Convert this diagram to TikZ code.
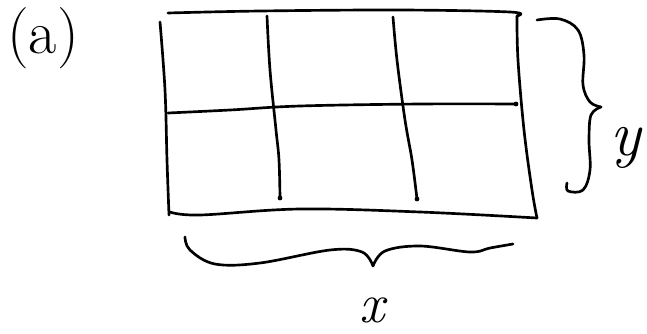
\documentclass[tikz,border=0pt]{standalone}
\begin{document}
\begin{tikzpicture}[x=0.75pt,y=-0.75pt,
  ink/.style={line width=2pt,line cap=round,line join=round,black},
  lbl/.style={inner sep=0pt}]
\useasboundingbox (0,0) rectangle (647,333);
% outer box
\draw[ink] plot[smooth,tension=0.6] coordinates {(168,13) (260,11) (400,10) (510,12) (517,16)};
\draw[ink] plot[smooth,tension=0.6] coordinates {(517,16) (518,60) (524,130) (532,190) (537,218)};
\draw[ink] plot[smooth,tension=0.6] coordinates {(160,22) (165,90) (167,160) (169,215)};
\draw[ink] plot[smooth,tension=0.6] coordinates {(170,212) (200,215) (300,209) (420,212) (537,218)};
% horizontal divider
\draw[ink] plot[smooth,tension=0.6] coordinates {(168,113) (230,110) (300,106) (420,104) (516,104)};
% vertical dividers
\draw[ink] plot[smooth,tension=0.6] coordinates {(267,16) (270,70) (276,130) (279,160) (280,198)};
\draw[ink] plot[smooth,tension=0.6] coordinates {(393,17) (397,60) (405,120) (412,160) (417,199)};
\fill (280,198) circle (2.4);
\fill (417,199) circle (2.4);
\fill (516,104) circle (2.4);
% right brace
\draw[ink] plot[smooth,tension=0.6] coordinates {(537,20) (560,19) (578,30) (584,55) (583,85) (590,102) (601,107)};
\draw[ink] plot[smooth,tension=0.6] coordinates {(601,107) (591,115) (589,140) (590,170) (583,190) (568,191) (567,183)};
% bottom brace
\draw[ink] plot[smooth,tension=0.6] coordinates {(185,237) (190,250) (215,264) (260,263) (330,250) (362,252) (373,266)};
\draw[ink] plot[smooth,tension=0.6] coordinates {(373,266) (385,251) (420,246) (470,252) (490,248) (513,244)};
% labels
\node[lbl,font=\fontsize{46}{50}\selectfont] (a) at (43,38) {(a)};
\node[lbl,font=\fontsize{48}{52}\selectfont\itshape] (y) at (626,148) {y};
\node[lbl,font=\fontsize{42}{46}\selectfont\itshape] (x) at (372,310) {x};
\end{tikzpicture}
\end{document}
